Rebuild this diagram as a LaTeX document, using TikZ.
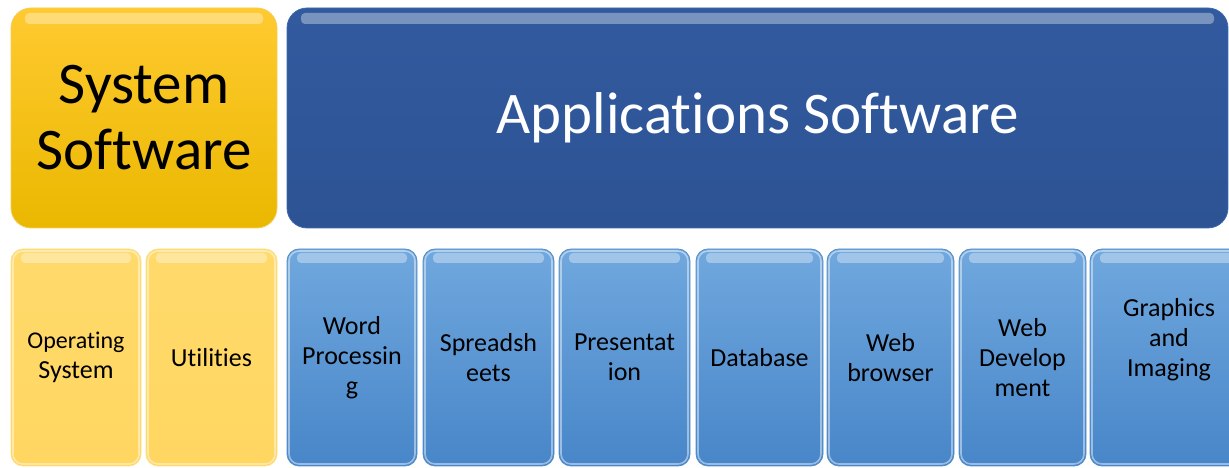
\documentclass[tikz,border=0pt]{standalone}
\usepackage{fontspec}
\setmainfont[Ligatures=NoCommon]{Carlito}
\begin{document}
\begin{tikzpicture}[x=1pt,y=1pt,
  glossy/.style={rounded corners=#1, inner sep=0pt, outer sep=0pt, align=center},
  sysbox/.style={glossy=20pt, top color=sysTop, bottom color=sysBot, draw=sysEdge, line width=0.8pt,
    font=\fontsize{59}{66}\selectfont, text=black},
  appbox/.style={glossy=20pt, top color=appTop, bottom color=appBot, draw=appEdge, line width=0.8pt,
    font=\fontsize{59}{66}\selectfont, text=white},
  ybox/.style={glossy=12pt, top color=yTop, bottom color=yBot, draw=yEdge, line width=0.8pt,
    minimum height=217pt, font=\fontsize{26}{30}\selectfont, text=black},
  bbox/.style={glossy=12pt, top color=bTop, bottom color=bBot, draw=bEdge, line width=0.8pt,
    minimum height=217pt, font=\fontsize{26}{30}\selectfont, text=black},
  gloss/.style={fill=white, opacity=0.35, rounded corners=4pt},
  rim/.style={draw=white, opacity=0.45, line width=1.6pt, rounded corners=#1}
]
\definecolor{sysTop}{RGB}{255,202,48}
\definecolor{sysBot}{RGB}{234,184,0}
\definecolor{sysEdge}{RGB}{245,205,90}
\definecolor{appTop}{RGB}{50,90,158}
\definecolor{appBot}{RGB}{45,83,148}
\definecolor{appEdge}{RGB}{60,105,175}
\definecolor{yTop}{RGB}{255,218,108}
\definecolor{yBot}{RGB}{255,214,96}
\definecolor{yEdge}{RGB}{250,225,140}
\definecolor{bTop}{RGB}{112,168,222}
\definecolor{bBot}{RGB}{72,134,201}
\definecolor{bEdge}{RGB}{85,140,200}

\useasboundingbox (0,0) rectangle (1229,468);

% top row
\node[sysbox, minimum width=266pt, minimum height=220pt] (sys) at (144,350) {System\\Software};
\node[appbox, minimum width=941pt, minimum height=220pt] (app) at (757.5,350) {Applications Software};

% bottom row
\node[ybox, minimum width=130pt] (os) at (76,110.5) {\fontsize{24}{25}\selectfont Operating\\System};
\node[ybox, minimum width=131pt] (ut) at (211.5,110.5) {Utilities};
\node[bbox, minimum width=130pt] (wp) at (352,110.5) {Word\\Processin\\g};
\node[bbox, minimum width=131pt] (ss) at (488.5,110.5) {Spreadsh\\eets};
\node[bbox, minimum width=131pt] (pr) at (624.5,110.5) {Presentat\\ion};
\node[bbox, minimum width=127pt] (db) at (759.5,110.5) {Database};
\node[bbox, minimum width=127pt] (wb) at (890.5,110.5) {Web\\browser};
\node[bbox, minimum width=127pt] (wd) at (1022.5,110.5) {Web\\Develop\\ment};
\node[bbox, minimum width=158pt] (gi) at (1169,110.5) {};
\node[font=\fontsize{26}{30}\selectfont, align=center, inner sep=0pt] (gitext) at ([yshift=18pt]gi.center) {Graphics\\and\\Imaging};

% glossy highlights
\foreach \n in {sys,app}{
  \fill[gloss] ([xshift=14pt,yshift=-5pt]\n.north west) rectangle ([xshift=-14pt,yshift=-16pt]\n.north east);
}
\foreach \n in {os,ut,wp,ss,pr,db,wb,wd,gi}{
  \fill[gloss] ([xshift=10pt,yshift=-4pt]\n.north west) rectangle ([xshift=-10pt,yshift=-14pt]\n.north east);
  \draw[rim=10pt] ([xshift=2pt,yshift=-2pt]\n.north west) rectangle ([xshift=-2pt,yshift=2pt]\n.south east);
}
\end{tikzpicture}
\end{document}
